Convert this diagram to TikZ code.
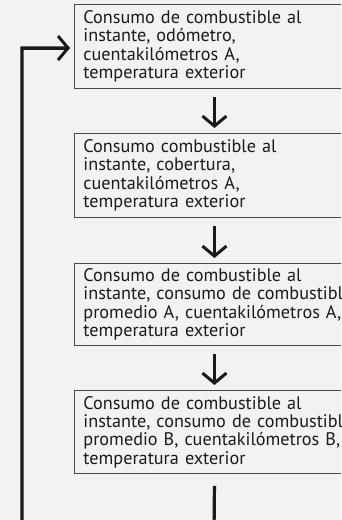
\documentclass[tikz,border=0pt]{standalone}
\usepackage{fontspec}
\setmainfont{PT Sans}
\usetikzlibrary{arrows.meta}
\hfuzz=300pt
\hbadness=10000
\definecolor{bg}{HTML}{F2F2F2}
\definecolor{ink}{HTML}{1A1A1A}
\definecolor{frame}{HTML}{4A4A4A}
\tikzset{
  infobox/.style={draw=frame, line width=0.9pt, fill=bg, anchor=north west,
    minimum width=280pt, minimum height=84pt, text width=262pt, align=left,
    inner xsep=9pt, inner ysep=0pt, text=ink,
    font=\fontsize{18.2}{18.3}\selectfont},
  flow/.style={draw=ink, line width=3pt,
    -{Straight Barb[length=10pt,width=24pt,line width=3pt]}},
  plain/.style={draw=ink, line width=3.2pt}
}
\begin{document}
\begin{tikzpicture}[x=1pt,y=1pt]
\useasboundingbox (0,0) rectangle (341,-520);
\fill[bg] (0,0) rectangle (341,-520);
\clip (0,0) rectangle (341,-520);
\node[infobox] (n1) at (74,-4) {\mbox{Consumo de combustible al}\\\mbox{instante, odómetro,}\\\mbox{cuentakilómetros A,}\\\mbox{temperatura exterior}};
\node[infobox] (n2) at (74,-133) {\mbox{Consumo combustible al}\\\mbox{instante, cobertura,}\\\mbox{cuentakilómetros A,}\\\mbox{temperatura exterior}};
\node[infobox, minimum height=82pt] (n3) at (74,-263) {\mbox{Consumo de combustible al}\\\mbox{instante, consumo de combustible}\\\mbox{promedio A, cuentakilómetros A,}\\\mbox{temperatura exterior}};
\node[infobox, minimum height=83pt] (n4) at (74,-390) {\mbox{Consumo de combustible al}\\\mbox{instante, consumo de combustible}\\\mbox{promedio B, cuentakilómetros B,}\\\mbox{temperatura exterior}};
\draw[flow, shorten <=8pt, shorten >=5pt] (n1.south) -- (n2.north);
\draw[flow, shorten <=8pt, shorten >=5pt] (n2.south) -- (n3.north);
\draw[flow, shorten <=8pt, shorten >=5pt] (n3.south) -- (n4.north);
\coordinate (b1) at (214,-535);
\coordinate (b2) at (22,-535);
\coordinate (t1) at (22,-48);
\coordinate (tip) at (70,-48);
\draw[plain, line join=miter] ([yshift=-12pt]n4.south) -- (b1) -- (b2) -- (t1) -- ([xshift=-1pt]tip);
\draw[flow] (t1) -- (tip);
\end{tikzpicture}
\end{document}
